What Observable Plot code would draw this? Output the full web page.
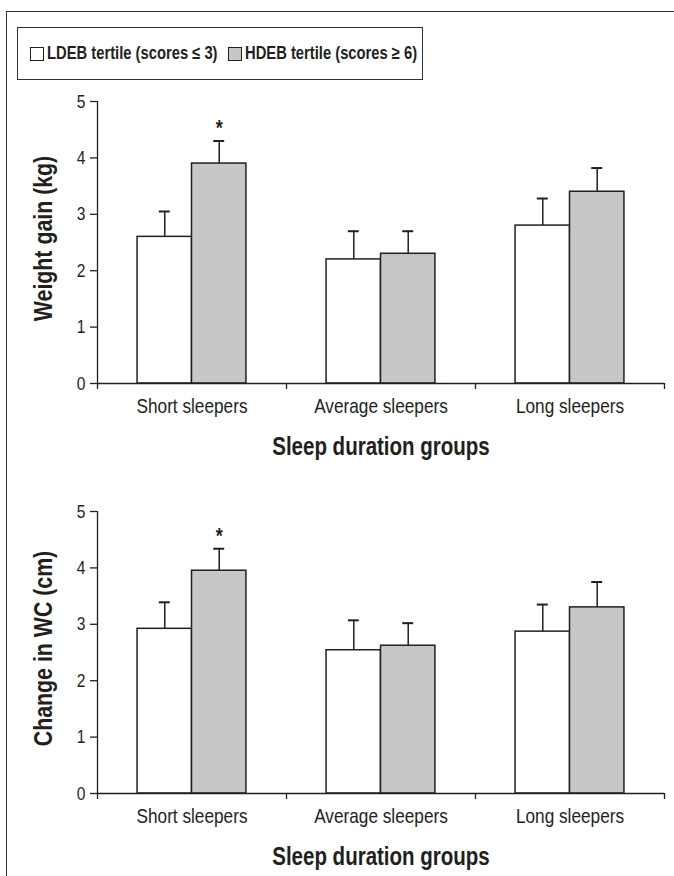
<!DOCTYPE html>
<html>
<head>
<meta charset="utf-8">
<script src="https://cdn.jsdelivr.net/npm/d3@7"></script>
<script src="https://cdn.jsdelivr.net/npm/@observablehq/plot@0.6"></script>
<style>
  html, body { margin: 0; padding: 0; background: #fff; }
  body { width: 674px; height: 876px; position: relative; overflow: hidden;
         font-family: "Liberation Sans", Arial, sans-serif; color: #231f20; }
  #frame { position: absolute; left: 6px; top: 11px; width: 700px; height: 900px;
           border-left: 1.5px solid #333; border-top: 1.5px solid #333; }
  #legend { position: absolute; left: 17px; top: 27px; width: 404px; height: 51px;
            border: 1.5px solid #333; font-weight: bold; font-size: 18px; }
  .item { position: absolute; top: 0; height: 51px; display: flex; align-items: center; white-space: nowrap; }
  .sw { width: 12px; height: 12px; border: 1.3px solid #231f20; margin-right: 3px; flex: none; }
  .lt { display: inline-block; transform: scaleX(0.82); transform-origin: left center; }
  .panel { position: absolute; left: 0; }
</style>
</head>
<body>
<div id="frame"></div>
<div id="legend"></div>
<div id="top" class="panel" style="top:90px"></div>
<div id="bottom" class="panel" style="top:500px"></div>
<script>
// ---- data ----
const categories = ["Short sleepers", "Average sleepers", "Long sleepers"];
const groups = ["LDEB tertile (scores \u2264 3)", "HDEB tertile (scores \u2265 6)"];
const groupColors = ["#ffffff", "#c6c7c9"];

const weightLDEB = [2.60, 2.20, 2.80];
const weightHDEB = [3.90, 2.30, 3.40];
const weightErrLDEB = [0.45, 0.50, 0.48];
const weightErrHDEB = [0.40, 0.40, 0.42];

const wcLDEB = [2.92, 2.54, 2.87];
const wcHDEB = [3.95, 2.62, 3.30];
const wcErrLDEB = [0.47, 0.53, 0.48];
const wcErrHDEB = [0.39, 0.40, 0.45];

const significantHDEB = [true, false, false];
const yTicks = [0, 1, 2, 3, 4, 5];
const xTitle = "Sleep duration groups";

const NARROW = 0.82; // emulate a narrow (condensed) face

// ---- legend ----
const legend = document.getElementById("legend");
const legendX = [12, 210];
groups.forEach((g, i) => {
  const it = document.createElement("div");
  it.className = "item";
  it.style.left = legendX[i] + "px";
  it.innerHTML = `<span class="sw" style="background:${groupColors[i]}"></span><span class="lt">${g}</span>`;
  legend.appendChild(it);
});

// ---- chart ----
const barW = 0.288; // bar width in category units
function rowsFor(l, h, el, eh) {
  const rows = [];
  categories.forEach((c, i) => {
    [l, h].forEach((vals, g) => {
      const err = g === 0 ? el : eh;
      const x1 = i + 0.5 + (g - 1) * barW;
      rows.push({
        category: c, group: groups[g], value: vals[i], upper: vals[i] + err[i],
        x1, x2: x1 + barW, cx: x1 + barW / 2,
        sig: g === 1 && significantHDEB[i]
      });
    });
  });
  return rows;
}

function chart(rows, yLabel) {
  const ink = "#231f20";
  return Plot.plot({
    width: 674,
    height: 373,
    marginLeft: 97,
    marginRight: 10,
    marginTop: 11,
    marginBottom: 80,
    style: { fontFamily: '"Liberation Sans", Arial, sans-serif', fontSize: "19px", color: ink, background: "transparent" },
    x: { domain: [0, 3] },
    y: { domain: [0, 5] },
    color: { domain: groups, range: groupColors },
    marks: [
      Plot.rectY(rows, { x1: "x1", x2: "x2", y1: 0, y2: "value", fill: "group", stroke: ink, strokeWidth: 1.5 }),
      Plot.ruleX(rows, { x: "cx", y1: "value", y2: "upper", stroke: ink, strokeWidth: 1.5 }),
      Plot.ruleY(rows, { y: "upper", x1: d => d.cx - 0.029, x2: d => d.cx + 0.029, stroke: ink, strokeWidth: 2 }),
      Plot.text(rows.filter(d => d.sig), { x: "cx", y: "upper", text: () => "*", dy: -13, fontSize: 22, fontWeight: "bold", fill: ink }),
      Plot.ruleX([0], { y1: 0, y2: 5, stroke: ink, strokeWidth: 1.3 }),
      Plot.ruleY([0], { x1: 0, x2: 3, stroke: ink, strokeWidth: 1.3 }),
      Plot.axisY({ ticks: yTicks, tickSize: 7, tickPadding: 5, tickFormat: d3.format("d"), label: null, fontSize: 19, stroke: ink, strokeWidth: 1.3 }),
      Plot.axisX({ ticks: [0, 1, 2, 3], tickSize: 6, tickFormat: () => "", label: null, stroke: ink, strokeWidth: 1.3 }),
      Plot.axisX({ ticks: [0.5, 1.5, 2.5], tickSize: 0, tickPadding: 15, tickFormat: v => categories[Math.floor(v)], label: null, fontSize: 21 }),
      Plot.text([xTitle], { frameAnchor: "bottom", dy: 71, fontSize: 25, fontWeight: "bold", fill: ink }),
      Plot.text([yLabel], { frameAnchor: "left", textAnchor: "middle", rotate: -90, dx: -54, dy: -4, fontSize: 26, fontWeight: "bold", fill: ink })
    ]
  });
}

function narrow(svg) {
  svg.querySelectorAll("text").forEach(t => {
    if (!t.textContent.trim()) return;
    const len = t.getComputedTextLength();
    if (len > 0) {
      t.setAttribute("textLength", (len * NARROW).toFixed(2));
      t.setAttribute("lengthAdjust", "spacingAndGlyphs");
    }
  });
}

const s1 = chart(rowsFor(weightLDEB, weightHDEB, weightErrLDEB, weightErrHDEB), "Weight gain (kg)");
document.getElementById("top").appendChild(s1);
narrow(s1);
const s2 = chart(rowsFor(wcLDEB, wcHDEB, wcErrLDEB, wcErrHDEB), "Change in WC (cm)");
document.getElementById("bottom").appendChild(s2);
narrow(s2);
</script>
</body>
</html>
